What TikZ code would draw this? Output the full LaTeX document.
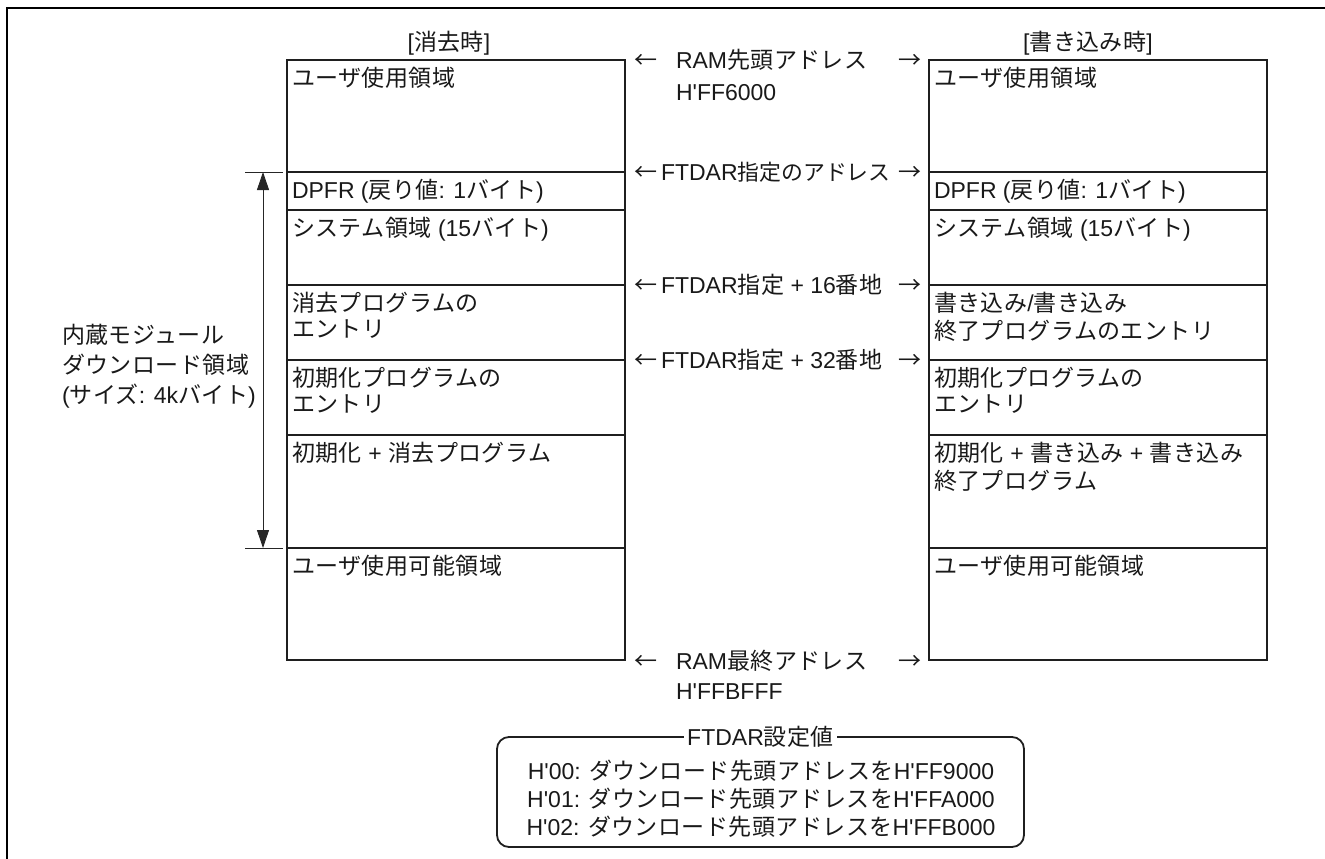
\documentclass[tikz,border=0pt]{standalone}
\usepackage{fontspec}
\newfontfamily\latfont{Liberation Sans}
\newfontfamily\jpfont[LetterSpace=2]{Noto Sans CJK JP}
\newfontfamily\jpnfont[Scale=0.95]{Noto Sans CJK JP}
\newcommand\J[1]{{\jpfont #1}}
\newcommand\Jn[1]{{\jpnfont #1}}
\usetikzlibrary{arrows.meta}
\newcommand\sect[5]{%
  \node[sect, minimum height={#4-#3}] (#1) at (#2,#3) {};
  \node[txt, anchor=north west] (#1t) at ([xshift=5pt,yshift=-7pt]#1.north west) {\strut #5};}
\begin{document}
\begin{tikzpicture}[x=1pt,y=-1pt,
  every node/.style={font=\latfont\fontsize{23}{26}\selectfont, inner sep=0pt, outer sep=0pt, text=black!90},
  sect/.style={draw=black!88, line width=2pt, minimum width=338pt, anchor=north west},
  txt/.style={align=left},
  lbl/.style={anchor=base west},
  tick/.style={draw=black!85, line width=0.9pt},
  dim/.style={draw=black!85, line width=0.9pt, {Triangle[length=18pt,width=12pt]}-{Triangle[length=18pt,width=12pt]}}
]
\useasboundingbox (0,0) rectangle (1325,859);
\draw[line width=2.5pt] (7,859) -- (7,8) -- (1325,8);

% headings
\node[anchor=base] (hl) at (449,51) {[\J{消去時}]};
\node[anchor=base] (hr) at (1088,51) {[\J{書き込み時}]};

% left column
\sect{L1}{287}{60}{172}{\J{ユーザ使用領域}}
\sect{L2}{287}{172}{210}{DPFR (\J{戻り値}: 1\J{バイト})}
\sect{L3}{287}{210}{285}{\J{システム領域} (15\J{バイト})}
\sect{L4}{287}{285}{360}{\J{消去プログラムの}\\\J{エントリ}}
\sect{L5}{287}{360}{435}{\J{初期化プログラムの}\\\J{エントリ}}
\sect{L6}{287}{435}{548}{\J{初期化} + \J{消去プログラム}}
\sect{L7}{287}{548}{660}{\J{ユーザ使用可能領域}}

% right column
\sect{R1}{929}{60}{172}{\J{ユーザ使用領域}}
\sect{R2}{929}{172}{210}{DPFR (\J{戻り値}: 1\J{バイト})}
\sect{R3}{929}{210}{285}{\J{システム領域} (15\J{バイト})}
\sect{R4}{929}{285}{360}{\J{書き込み}/\J{書き込み}\\\J{終了プログラムのエントリ}}
\sect{R5}{929}{360}{435}{\J{初期化プログラムの}\\\J{エントリ}}
\sect{R6}{929}{435}{548}{\J{初期化} + \J{書き込み} + \J{書き込み}\\\J{終了プログラム}}
\sect{R7}{929}{548}{660}{\J{ユーザ使用可能領域}}

% download area dimension
\draw[tick] ([xshift=-42pt]L2.north west) -- ([xshift=-4pt]L2.north west);
\draw[tick] ([xshift=-42pt]L7.north west) -- ([xshift=-4pt]L7.north west);
\coordinate (dtop) at ([xshift=-24pt]L2.north west);
\coordinate (dbot) at ([xshift=-24pt]L7.north west);
\draw[dim] (dtop) -- (dbot);
\node[txt, anchor=base west, font=\latfont\fontsize{23}{30}\selectfont] (dlbl) at (62,403)
  {\J{内蔵モジュール}\\\J{ダウンロード領域}\\(\J{サイズ}: 4k\J{バイト})};

% middle labels
\node[lbl] (a1l) at (634,68) {\J{←}};
\node[lbl, anchor=base east] (a1r) at (921,68) {\J{→}};
\node[lbl] (a1t) at (676,68) {RAM\J{先頭アドレス}};
\node[lbl] (a1h) at (676,100) {H'FF6000};

\node[lbl] (a2l) at (634,180) {\J{←}};
\node[lbl, anchor=base east] (a2r) at (921,180) {\J{→}};
\node[lbl] (a2t) at (661,180) {FTDAR\Jn{指定のアドレス}};

\node[lbl] (a3l) at (634,293) {\J{←}};
\node[lbl, anchor=base east] (a3r) at (921,293) {\J{→}};
\node[lbl] (a3t) at (661,293) {FTDAR\J{指定} + 16\J{番地}};

\node[lbl] (a4l) at (634,368) {\J{←}};
\node[lbl, anchor=base east] (a4r) at (921,368) {\J{→}};
\node[lbl] (a4t) at (661,368) {FTDAR\J{指定} + 32\J{番地}};

\node[lbl] (a5l) at (634,669) {\J{←}};
\node[lbl, anchor=base east] (a5r) at (921,669) {\J{→}};
\node[lbl] (a5t) at (676,669) {RAM\J{最終アドレス}};
\node[lbl] (a5h) at (676,699) {H'FFBFFF};

% FTDAR setting box
\node[draw=black!88, line width=1.8pt, rounded corners=12pt, minimum width=527pt, minimum height=110pt, anchor=north west] (ftbox) at (497,737) {};
\node[fill=white, inner xsep=3pt, inner ysep=2pt] (fttitle) at (ftbox.north) {FTDAR\J{設定値}};
\node[align=center, font=\latfont\fontsize{23}{28}\selectfont] (ftlines) at (761,799)
  {H'00: \J{ダウンロード先頭アドレスを}H'FF9000\\H'01: \J{ダウンロード先頭アドレスを}H'FFA000\\H'02: \J{ダウンロード先頭アドレスを}H'FFB000};
\end{tikzpicture}
\end{document}
